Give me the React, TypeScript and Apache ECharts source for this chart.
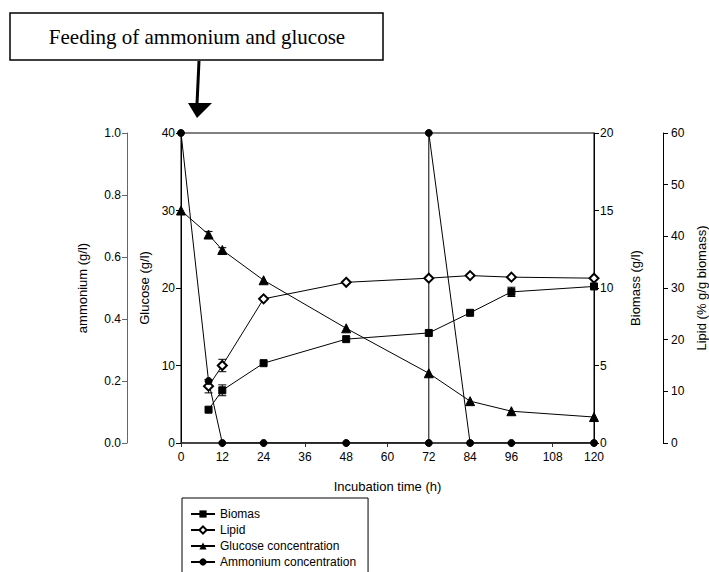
import React, { useEffect, useRef } from "react";
import * as echarts from "echarts";

const timeBiomass = [8, 12, 24, 48, 72, 84, 96, 120];
const biomass = [2.15, 3.4, 5.15, 6.7, 7.1, 8.4, 9.75, 10.1];
const biomassErr = [0, 0.35, 0, 0, 0, 0, 0.3, 0];

const lipid = [11.0, 15.0, 27.9, 31.1, 31.9, 32.4, 32.1, 31.9];
const lipidErr = [1.3, 1.2, 0, 0, 0, 0, 0, 0];

const timeGlucose = [0, 8, 12, 24, 48, 72, 84, 96, 120];
const glucose = [30.0, 26.9, 24.9, 21.0, 14.8, 9.0, 5.4, 4.1, 3.35];
const glucoseErr = [0, 0.4, 0.3, 0, 0, 0, 0, 0, 0];

const timeAmmonium = [0, 8, 12, 24, 48, 72, 72, 84, 96, 120];
const ammonium = [1.0, 0.2, 0, 0, 0, 0, 1.0, 0, 0, 0];

const xTicks = [0, 12, 24, 36, 48, 60, 72, 84, 96, 108, 120];

const FONT = "'Liberation Sans', Arial, sans-serif";

function pairs(xs: number[], ys: number[]) {
  return xs.map((x, i) => [x, ys[i]]);
}

function errData(xs: number[], ys: number[], es: number[]) {
  return xs
    .map((x, i) => [x, ys[i], es[i]])
    .filter((d) => d[2] > 0);
}

function errSeries(data: number[][], yAxisIndex: number) {
  return {
    type: "custom",
    yAxisIndex,
    z: 1,
    silent: true,
    data,
    renderItem: (params: any, api: any) => {
      const x = api.value(0);
      const y = api.value(1);
      const e = api.value(2);
      const t = api.coord([x, y + e]);
      const b = api.coord([x, y - e]);
      const w = 4;
      const st = { stroke: "#000", lineWidth: 1 };
      return {
        type: "group",
        children: [
          { type: "line", shape: { x1: t[0], y1: t[1], x2: b[0], y2: b[1] }, style: st },
          { type: "line", shape: { x1: t[0] - w, y1: t[1], x2: t[0] + w, y2: t[1] }, style: st },
          { type: "line", shape: { x1: b[0] - w, y1: b[1], x2: b[0] + w, y2: b[1] }, style: st },
        ],
      };
    },
  };
}

export default function App() {
  const ref = useRef<HTMLDivElement>(null);
  useEffect(() => {
    if (!ref.current) return;
    const chart = echarts.init(ref.current, undefined, { renderer: "svg" });
    const axisCommon = (color: string) => ({
      axisLine: { show: true, lineStyle: { color, width: 1 } },
      axisTick: { show: true, length: 5, lineStyle: { color } },
      axisLabel: { color: "#000", fontSize: 12, fontFamily: FONT, margin: 6 },
      splitLine: { show: false },
      nameLocation: "middle",
      nameRotate: 90,
      nameTextStyle: { color: "#000", fontSize: 13, fontFamily: FONT },
    });
    const lineCommon = {
      type: "line",
      z: 2,
      lineStyle: { color: "#000", width: 1 },
      itemStyle: { color: "#000", borderColor: "#000" },
      showSymbol: true,
    };
    chart.setOption({
      animation: false,
      backgroundColor: "#fff",
      grid: {
        left: 181,
        right: 115,
        top: 133,
        bottom: 129,
        containLabel: false,
        outerBoundsMode: "none",
        show: true,
        borderColor: "#000",
        borderWidth: 1,
        backgroundColor: "transparent",
      },
      xAxis: {
        type: "value",
        min: 0,
        max: 120,
        interval: 12,
        name: "Incubation time (h)",
        nameLocation: "middle",
        nameGap: 37,
        nameTextStyle: { color: "#000", fontSize: 13, fontFamily: FONT },
        axisLine: { show: true, lineStyle: { color: "#333", width: 1.5 } },
        axisTick: { show: true, length: 4, lineStyle: { color: "#333" } },
        axisLabel: {
          color: "#000",
          fontSize: 12,
          fontFamily: FONT,
          margin: 8,
          customValues: xTicks,
        },
        splitLine: { show: false },
      },
      yAxis: [
        {
          type: "value",
          position: "left",
          offset: 0,
          min: 0,
          max: 40,
          interval: 10,
          name: "Glucose (g/l)",
          nameGap: 27,
          ...axisCommon("#000"),
        },
        {
          type: "value",
          position: "left",
          offset: 54,
          min: 0,
          max: 1,
          interval: 0.2,
          name: "ammonium (g/l)",
          nameGap: 38,
          ...axisCommon("#666"),
          axisLabel: {
            color: "#000",
            fontSize: 12,
            fontFamily: FONT,
            margin: 6,
            formatter: (v: number) => v.toFixed(1),
          },
        },
        {
          type: "value",
          position: "right",
          offset: 0,
          min: 0,
          max: 20,
          interval: 5,
          name: "Biomass (g/l)",
          nameGap: 35,
          ...axisCommon("#000"),
        },
        {
          type: "value",
          position: "right",
          offset: 69,
          min: 0,
          max: 60,
          interval: 10,
          name: "Lipid (% g/g biomass)",
          nameGap: 31,
          ...axisCommon("#000"),
          axisLabel: { color: "#000", fontSize: 12, fontFamily: FONT, margin: 8 },
        },
      ],
      legend: {
        orient: "vertical",
        left: 182,
        top: 498,
        height: 120,
        data: ["Biomas", "Lipid", "Glucose concentration", "Ammonium concentration"],
        backgroundColor: "#fff",
        borderColor: "#000",
        borderWidth: 1,
        borderRadius: 0,
        padding: [10, 12, 30, 8],
        itemWidth: 24,
        itemHeight: 9,
        itemGap: 4,
        textStyle: { color: "#000", fontSize: 12, fontFamily: FONT, lineHeight: 12 },
      },
      series: [
        {
          ...lineCommon,
          name: "Biomas",
          yAxisIndex: 2,
          symbol: "rect",
          symbolSize: 7,
          data: pairs(timeBiomass, biomass),
        },
        {
          ...lineCommon,
          name: "Lipid",
          yAxisIndex: 3,
          symbol: "diamond",
          symbolSize: 9,
          itemStyle: { color: "#fff", borderColor: "#000", borderWidth: 2 },
          data: pairs(timeBiomass, lipid),
        },
        {
          ...lineCommon,
          name: "Glucose concentration",
          yAxisIndex: 0,
          symbol: "triangle",
          symbolSize: 9,
          data: pairs(timeGlucose, glucose),
        },
        {
          ...lineCommon,
          name: "Ammonium concentration",
          yAxisIndex: 1,
          symbol: "circle",
          symbolSize: 7,
          data: pairs(timeAmmonium, ammonium),
        },
        errSeries(errData(timeBiomass, biomass, biomassErr), 2),
        errSeries(errData(timeBiomass, lipid, lipidErr), 3),
        errSeries(errData(timeGlucose, glucose, glucoseErr), 0),
      ],
      graphic: [
        {
          type: "rect",
          shape: { x: 10, y: 13, width: 373, height: 47 },
          style: { fill: "#fff", stroke: "#000", lineWidth: 1.5 },
        },
        {
          type: "text",
          x: 197,
          y: 37,
          style: {
            text: "Feeding of ammonium and glucose",
            fill: "#000",
            font: "21px 'Liberation Serif', 'Times New Roman', serif",
            align: "center",
            verticalAlign: "middle",
          },
        },
        {
          type: "line",
          shape: { x1: 199, y1: 61, x2: 197, y2: 104 },
          style: { stroke: "#000", lineWidth: 3 },
        },
        {
          type: "polygon",
          shape: { points: [[188, 103], [212, 103], [197, 118]] },
          style: { fill: "#000" },
        },
      ],
    });
    return () => chart.dispose();
  }, []);
  return (
    <div
      ref={ref}
      style={{ position: "fixed", left: 0, top: 0, width: 709, height: 572, background: "#fff" }}
    />
  );
}
